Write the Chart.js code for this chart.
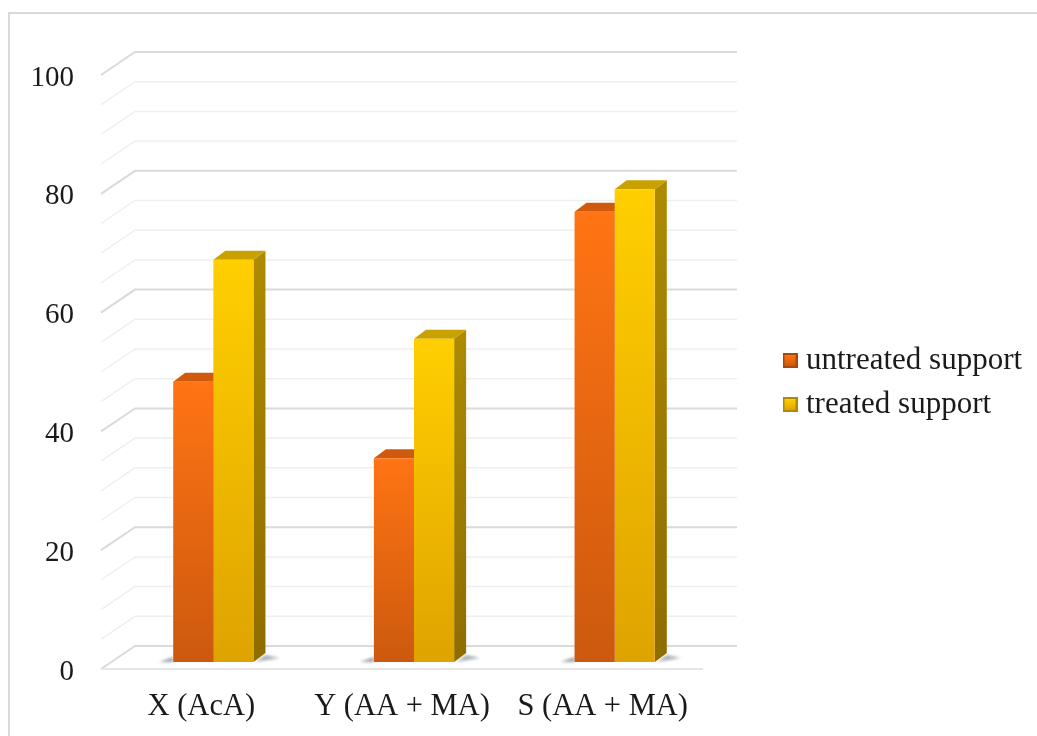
<!DOCTYPE html>
<html>
<head>
    <title>Support comparison</title>
    <script src="https://cdn.jsdelivr.net/npm/chart.js"></script>
    <style>
        html, body { margin: 0; padding: 0; background: #fff; overflow: hidden; }
        #wrap { position: relative; width: 1037px; height: 736px; }
        #frame { position: absolute; left: 8px; top: 12px; width: 1040px; height: 740px; border: 2px solid #d9d9d9; box-sizing: border-box; }
        canvas { position: absolute; left: 0; top: 0; }
    </style>
</head>
<body>
    <div id="wrap">
        <div id="frame"></div>
        <canvas id="supportChart" width="1037" height="736"></canvas>
    </div>

    <script>
        const categories = ['X (AcA)', 'Y (AA + MA)', 'S (AA + MA)'];
        const seriesNames = ['untreated support', 'treated support'];
        const untreated = [47.2, 34.3, 75.8];
        const treated = [67.7, 54.4, 79.6];
        const tickLabels = [0, 20, 40, 60, 80, 100];

        const wallDepth = { x: 34, y: -23 };   // back wall offset from the front plane
        const barShift = { x: 12, y: -7 };     // bars stand in the middle of the floor
        const barDepth = { x: 12, y: -9 };

        const orange = { top: '#ff7414', bottom: '#cc590e', side: '#a8480a', cap: '#cf5a0d' };
        const yellow = { top: '#ffcf00', bottom: '#dfa300', side: '#ad8a00', cap: '#c9a200' };

        function barGradient(colors) {
            return function (ctx) {
                const chart = ctx.chart;
                if (ctx.type !== 'data' || !chart.chartArea) return colors.top;
                const y = chart.scales.y;
                const g = chart.ctx.createLinearGradient(0, y.getPixelForValue(ctx.parsed.y), 0, y.getPixelForValue(0));
                g.addColorStop(0, colors.top);
                g.addColorStop(1, colors.bottom);
                return g;
            };
        }

        // little bevelled square for the legend
        function swatch(colors) {
            const c = document.createElement('canvas');
            c.width = 15;
            c.height = 15;
            const x = c.getContext('2d');
            x.fillStyle = colors.side;
            x.fillRect(0, 0, 15, 15);
            const g = x.createLinearGradient(0, 2, 0, 13);
            g.addColorStop(0, colors.top);
            g.addColorStop(1, colors.bottom);
            x.fillStyle = g;
            x.fillRect(2, 2, 11, 11);
            return c;
        }

        function face(ctx, pts, fill) {
            ctx.fillStyle = fill;
            ctx.beginPath();
            pts.forEach((p, i) => i ? ctx.lineTo(p[0], p[1]) : ctx.moveTo(p[0], p[1]));
            ctx.closePath();
            ctx.fill();
        }

        const wallGrid = {
            id: 'wallGrid',
            beforeDatasetsDraw(chart) {
                const { ctx, chartArea, scales } = chart;
                ctx.save();
                for (let v = 0; v <= 100; v += 5) {
                    const y = scales.y.getPixelForValue(v);
                    const major = v % 20 === 0;
                    ctx.strokeStyle = major ? '#dadada' : '#efefef';
                    ctx.lineWidth = major ? 2 : 1.5;
                    ctx.beginPath();
                    ctx.moveTo(chartArea.left, y);
                    ctx.lineTo(chartArea.left + wallDepth.x, y + wallDepth.y);
                    ctx.lineTo(chartArea.right + wallDepth.x, y + wallDepth.y);
                    ctx.stroke();
                }
                // front edge of the floor
                const y0 = scales.y.getPixelForValue(0);
                ctx.strokeStyle = '#e6e6e6';
                ctx.beginPath();
                ctx.moveTo(chartArea.left, y0);
                ctx.lineTo(chartArea.right, y0);
                ctx.stroke();
                ctx.restore();
            }
        };

        const barFaces = {
            id: 'barFaces',
            beforeDatasetsDraw(chart) {
                const ctx = chart.ctx;
                ctx.save();
                ctx.translate(barShift.x, barShift.y);
                const y0 = chart.scales.y.getPixelForValue(0);

                // floor shadows under each pair of bars
                chart.getDatasetMeta(0).data.forEach((bar, i) => {
                    const left = bar.x - bar.width / 2;
                    const right = chart.getDatasetMeta(1).data[i].x + bar.width / 2;
                    ctx.save();
                    ctx.filter = 'blur(1.5px)';
                    face(ctx, [[left - 14, y0], [left, y0 - 5], [left, y0]], '#9aa2aa');
                    face(ctx, [[right + barDepth.x, y0 + barDepth.y + 2], [right + barDepth.x + 14, y0 - 4], [right + 2, y0]], '#aab0b6');
                    ctx.restore();
                });

                [orange, yellow].forEach((colors, d) => {
                    chart.getDatasetMeta(d).data.forEach(bar => {
                        const l = bar.x - bar.width / 2;
                        const r = bar.x + bar.width / 2;
                        const dx = barDepth.x, dy = barDepth.y;
                        const g = ctx.createLinearGradient(0, bar.y, 0, y0);
                        g.addColorStop(0, colors.side);
                        g.addColorStop(1, d ? '#8f6c00' : '#8c3d08');
                        face(ctx, [[r, bar.y], [r + dx, bar.y + dy], [r + dx, y0 + dy], [r, y0]], g);
                        face(ctx, [[l, bar.y], [l + dx, bar.y + dy], [r + dx, bar.y + dy], [r, bar.y]], colors.cap);
                    });
                });
                // the bars themselves get drawn by the library inside this shift
            },
            afterDatasetsDraw(chart) {
                chart.ctx.restore();
            }
        };

        // the legend sits to the right of the wall, outside the plot layout
        const legendPlacer = {
            id: 'legendPlacer',
            afterLayout(chart) {
                const legend = chart.legend;
                legend.left = 776.5;
                legend.right = legend.left + legend.width;
                legend.top = 332;
                legend.bottom = legend.top + legend.height;
            }
        };

        const swatches = [swatch(orange), swatch(yellow)];

        new Chart(document.getElementById('supportChart'), {
            type: 'bar',
            data: {
                labels: categories,
                datasets: [
                    { label: seriesNames[0], data: untreated, backgroundColor: barGradient(orange), clip: false },
                    { label: seriesNames[1], data: treated, backgroundColor: barGradient(yellow), clip: false }
                ]
            },
            options: {
                responsive: false,
                animation: false,
                layout: { padding: { top: 75, right: 334, left: 0, bottom: 0 } },
                datasets: { bar: { categoryPercentage: 0.4, barPercentage: 1 } },
                plugins: {
                    tooltip: { enabled: false },
                    legend: {
                        position: 'chartArea',
                        align: 'start',
                        labels: {
                            font: { family: '"Liberation Serif"', size: 31 },
                            color: '#1a1a1a',
                            usePointStyle: true,
                            pointStyleWidth: 1,
                            boxHeight: 15,
                            padding: 13,
                            generateLabels(chart) {
                                return chart.data.datasets.map((ds, i) => ({
                                    text: ds.label,
                                    datasetIndex: i,
                                    pointStyle: swatches[i],
                                    fontColor: '#1a1a1a',
                                    lineWidth: 0
                                }));
                            }
                        }
                    }
                },
                scales: {
                    x: {
                        grid: { display: false },
                        border: { display: false },
                        ticks: {
                            padding: 12,
                            color: '#1a1a1a',
                            maxRotation: 0,
                            autoSkip: false,
                            font: { family: '"Liberation Serif"', size: 30.5 }
                        },
                        afterFit(scale) { scale.height = 67; }
                    },
                    y: {
                        min: 0,
                        max: 100,
                        grid: { display: false },
                        border: { display: false },
                        ticks: {
                            stepSize: 5,
                            autoSkip: false,
                            padding: 19,
                            labelOffset: 3,
                            color: '#1a1a1a',
                            font: { family: '"Liberation Serif"', size: 29 },
                            callback: v => tickLabels.includes(v) ? v : ''
                        },
                        afterFit(scale) { scale.width = 101; }
                    }
                }
            },
            plugins: [wallGrid, barFaces, legendPlacer]
        });
    </script>
</body>
</html>
